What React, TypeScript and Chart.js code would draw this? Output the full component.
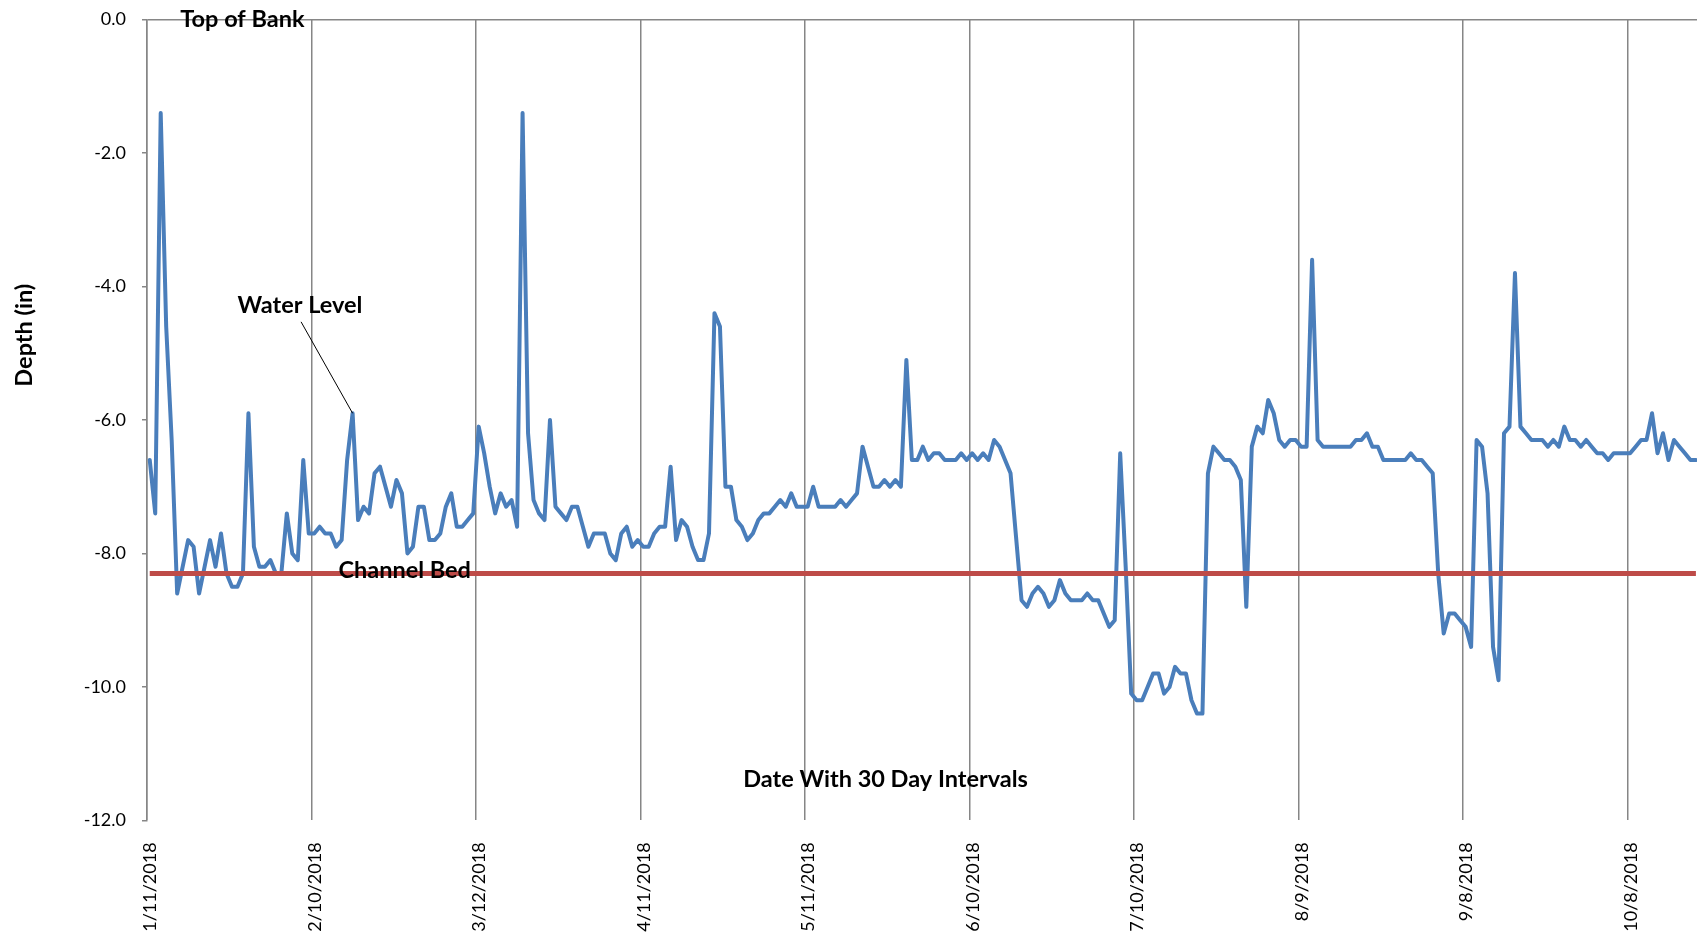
import React, { useEffect, useRef } from "react";
import { Chart, registerables } from "chart.js";

Chart.register(...registerables);

// Tick labels (30-day intervals) and their day offsets from 1/11/2018
const tickLabels = [
  "1/11/2018", "2/10/2018", "3/12/2018", "4/11/2018", "5/11/2018",
  "6/10/2018", "7/10/2018", "8/9/2018", "9/8/2018", "10/8/2018",
];
const tickDays = [0, 30, 60, 90, 120, 150, 180, 210, 240, 270];

// Daily water level (in), day 0 = 1/11/2018
const depth = [
  -6.6, -7.4, -1.4, -4.6, -6.3, -8.6, -8.2, -7.8, -7.9, -8.6,
  -8.2, -7.8, -8.2, -7.7, -8.3, -8.5, -8.5, -8.3, -5.9, -7.9,
  -8.2, -8.2, -8.1, -8.3, -8.3, -7.4, -8.0, -8.1, -6.6, -7.7,
  -7.7, -7.6, -7.7, -7.7, -7.9, -7.8, -6.6, -5.9, -7.5, -7.3,
  -7.4, -6.8, -6.7, -7.0, -7.3, -6.9, -7.1, -8.0, -7.9, -7.3,
  -7.3, -7.8, -7.8, -7.7, -7.3, -7.1, -7.6, -7.6, -7.5, -7.4,
  -6.1, -6.5, -7.0, -7.4, -7.1, -7.3, -7.2, -7.6, -1.4, -6.2,
  -7.2, -7.4, -7.5, -6.0, -7.3, -7.4, -7.5, -7.3, -7.3, -7.6,
  -7.9, -7.7, -7.7, -7.7, -8.0, -8.1, -7.7, -7.6, -7.9, -7.8,
  -7.9, -7.9, -7.7, -7.6, -7.6, -6.7, -7.8, -7.5, -7.6, -7.9,
  -8.1, -8.1, -7.7, -4.4, -4.6, -7.0, -7.0, -7.5, -7.6, -7.8,
  -7.7, -7.5, -7.4, -7.4, -7.3, -7.2, -7.3, -7.1, -7.3, -7.3,
  -7.3, -7.0, -7.3, -7.3, -7.3, -7.3, -7.2, -7.3, -7.2, -7.1,
  -6.4, -6.7, -7.0, -7.0, -6.9, -7.0, -6.9, -7.0, -5.1, -6.6,
  -6.6, -6.4, -6.6, -6.5, -6.5, -6.6, -6.6, -6.6, -6.5, -6.6,
  -6.5, -6.6, -6.5, -6.6, -6.3, -6.4, -6.6, -6.8, -7.75, -8.7,
  -8.8, -8.6, -8.5, -8.6, -8.8, -8.7, -8.4, -8.6, -8.7, -8.7,
  -8.7, -8.6, -8.7, -8.7, -8.9, -9.1, -9.0, -6.5, -8.2, -10.1,
  -10.2, -10.2, -10.0, -9.8, -9.8, -10.1, -10.0, -9.7, -9.8, -9.8,
  -10.2, -10.4, -10.4, -6.8, -6.4, -6.5, -6.6, -6.6, -6.7, -6.9,
  -8.8, -6.4, -6.1, -6.2, -5.7, -5.9, -6.3, -6.4, -6.3, -6.3,
  -6.4, -6.4, -3.6, -6.3, -6.4, -6.4, -6.4, -6.4, -6.4, -6.4,
  -6.3, -6.3, -6.2, -6.4, -6.4, -6.6, -6.6, -6.6, -6.6, -6.6,
  -6.5, -6.6, -6.6, -6.7, -6.8, -8.3, -9.2, -8.9, -8.9, -9.0,
  -9.1, -9.4, -6.3, -6.4, -7.1, -9.4, -9.9, -6.2, -6.1, -3.8,
  -6.1, -6.2, -6.3, -6.3, -6.3, -6.4, -6.3, -6.4, -6.1, -6.3,
  -6.3, -6.4, -6.3, -6.4, -6.5, -6.5, -6.6, -6.5, -6.5, -6.5,
  -6.5, -6.4, -6.3, -6.3, -5.9, -6.5, -6.2, -6.6, -6.3, -6.4,
  -6.5, -6.6, -6.6,
];

const channelBed = -8.3;
const yTickValues = [0, -2, -4, -6, -8, -10, -12];

const GRID = "#868686";
const FONT = "Lato";

export default function App() {
  const ref = useRef<HTMLCanvasElement | null>(null);

  useEffect(() => {
    if (!ref.current) return;
    const waterPts = depth.map((v, i) => ({ x: i, y: v }));
    const bedPts = [
      { x: 0, y: channelBed },
      { x: depth.length - 1, y: channelBed },
    ];

    const annot = {
      id: "annot",
      afterDatasetsDraw(chart: any) {
        const { ctx, scales } = chart;
        const x = scales.x;
        const y = scales.y;
        ctx.save();
        ctx.fillStyle = "#000";
        ctx.textAlign = "center";
        ctx.textBaseline = "middle";
        ctx.font = `bold 23.5px ${FONT}`;
        ctx.fillText("Top of Bank", x.getPixelForValue(16.9), y.getPixelForValue(0));
        ctx.fillText("Water Level", x.getPixelForValue(27.4), y.getPixelForValue(-4.29));
        ctx.fillText("Channel Bed", x.getPixelForValue(46.5), y.getPixelForValue(-8.26));
        ctx.fillText("Date With 30 Day Intervals", x.getPixelForValue(134.2), y.getPixelForValue(-11.38));
        // leader line
        ctx.strokeStyle = "#000";
        ctx.lineWidth = 1;
        ctx.beginPath();
        ctx.moveTo(x.getPixelForValue(27.6), y.getPixelForValue(-4.53));
        ctx.lineTo(x.getPixelForValue(37), y.getPixelForValue(depth[37]));
        ctx.stroke();
        // y-axis title
        ctx.translate(24, y.getPixelForValue(-4.73));
        ctx.rotate(-Math.PI / 2);
        ctx.fillText("Depth (in)", 0, 0);
        ctx.restore();
      },
    };

    const chart = new Chart(ref.current, {
      type: "line",
      data: {
        datasets: [
          {
            label: "Channel Bed",
            data: bedPts,
            borderColor: "#BE4B48",
            borderWidth: 5,
            pointRadius: 0,
            order: 0,
          },
          {
            label: "Water Level",
            data: waterPts,
            borderColor: "#4A7EBB",
            borderWidth: 4,
            pointRadius: 0,
            tension: 0,
            borderJoinStyle: "round",
            borderCapStyle: "round",
            order: 1,
          },
        ],
      },
      options: {
        animation: false,
        responsive: false,
        devicePixelRatio: 1,
        layout: { padding: { left: 0, right: 0, top: 19.5, bottom: 0 } },
        plugins: { legend: { display: false }, tooltip: { enabled: false } },
        scales: {
          x: {
            type: "linear",
            min: -0.5,
            max: 282.2,
            afterBuildTicks: (s: any) => {
              s.ticks = tickDays.map((d) => ({ value: d - 0.5 }));
            },
            afterFit: (s: any) => {
              s.height = 114.6;
            },
            grid: { color: GRID, lineWidth: 1.5, drawTicks: false },
            border: { display: false },
            ticks: {
              autoSkip: false,
              maxRotation: 90,
              minRotation: 90,
              padding: 22,
              labelOffset: 3.5,
              color: "#000",
              font: { family: FONT, size: 18 },
              callback: (_v: any, i: number) => tickLabels[i],
            },
          },
          y: {
            type: "linear",
            min: -12,
            max: 0,
            afterBuildTicks: (s: any) => {
              s.ticks = yTickValues.map((v) => ({ value: v }));
            },
            afterFit: (s: any) => {
              s.width = 147;
              s.paddingTop = 0;
              s.paddingBottom = 0;
            },
            grid: {
              color: (c: any) => (c.tick && c.tick.value === 0 ? GRID : "rgba(0,0,0,0)"),
              tickColor: GRID,
              tickLength: 5,
              lineWidth: 1.5,
            },
            border: { display: true, color: GRID, width: 1.5 },
            ticks: {
              padding: 16,
              color: "#000",
              font: { family: FONT, size: 18 },
              callback: (v: any) => Number(v).toFixed(1),
            },
          },
        },
      },
      plugins: [annot],
    } as any);

    return () => chart.destroy();
  }, []);

  return (
    <div style={{ position: "absolute", left: 0, top: 0, width: 1697, height: 935, background: "#fff" }}>
      <canvas ref={ref} width={1697} height={935} style={{ width: 1697, height: 935, display: "block" }} />
    </div>
  );
}
